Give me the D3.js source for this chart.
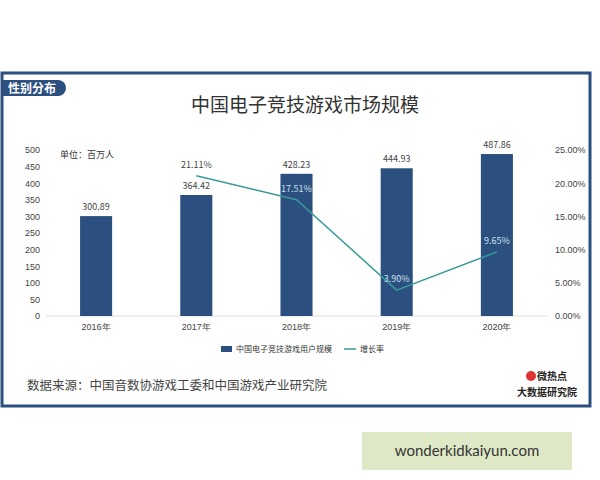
<!DOCTYPE html>
<html><head><meta charset="utf-8">
<script src="https://cdn.jsdelivr.net/npm/d3@7"></script>
<style>body{margin:0;background:#fff;font-family:"Noto Sans CJK SC","Noto Sans",sans-serif;}</style>
</head><body>
<script>
// data
var years = ["2016年", "2017年", "2018年", "2019年", "2020年"];
var users = [300.89, 364.42, 428.23, 444.93, 487.86];
var growth = [null, 21.11, 17.51, 3.90, 9.65];
var leftTicks = [0, 50, 100, 150, 200, 250, 300, 350, 400, 450, 500];
var rightTicks = [0, 5, 10, 15, 20, 25];

var svg = d3.select("body").append("svg").attr("width", 600).attr("height", 480);

// frame
svg.append("rect").attr("x", 2).attr("y", 73).attr("width", 588).attr("height", 333)
    .attr("fill", "#fff").attr("stroke", "#2b4f7e").attr("stroke-width", 3);
svg.append("path").attr("d", "M2,80 H58 a8,8 0 0 1 0,16 H2 Z").attr("fill", "#2b4f7e");
svg.append("text").attr("x", 8).attr("y", 93).attr("fill", "#fff").attr("font-size", 12)
    .attr("font-weight", "bold").text("性别分布");

svg.append("text").attr("x", 305).attr("y", 112).attr("text-anchor", "middle")
    .attr("font-size", 19).attr("fill", "#333").text("中国电子竞技游戏市场规模");
svg.append("text").attr("x", 60).attr("y", 158).attr("font-size", 9).attr("fill", "#333").text("单位：百万人");

var x = d3.scaleBand().domain(years).range([46, 547]).paddingInner(0.68).paddingOuter(0.34);
var y = d3.scaleLinear().domain([0, 500]).range([316, 150]);
var y2 = d3.scaleLinear().domain([0, 25]).range([316, 150]);

var g = svg.append("g");
g.append("line").attr("x1", 46).attr("x2", 547).attr("y1", y(0)).attr("y2", y(0)).attr("stroke", "#ddd");

var ly = d3.axisLeft(y).tickValues(leftTicks).tickSize(0).tickPadding(0);
g.append("g").attr("transform", "translate(40,0)").call(ly)
    .call(s => s.select(".domain").remove())
    .selectAll("text").attr("font-size", 9).attr("fill", "#444");
var ry = d3.axisRight(y2).tickValues(rightTicks).tickSize(0).tickPadding(0)
    .tickFormat(d => d.toFixed(2) + "%");
g.append("g").attr("transform", "translate(555,0)").call(ry)
    .call(s => s.select(".domain").remove())
    .selectAll("text").attr("font-size", 9).attr("fill", "#444");
var bx = d3.axisBottom(x).tickSize(0).tickPadding(8);
g.append("g").attr("transform", "translate(0,316)").call(bx)
    .call(s => s.select(".domain").remove())
    .selectAll("text").attr("font-size", 9).attr("fill", "#444");

g.selectAll(".bar").data(users).enter().append("rect")
    .attr("x", (d, i) => x(years[i])).attr("width", x.bandwidth())
    .attr("y", d => y(d)).attr("height", d => y(0) - y(d)).attr("fill", "#2b4f7e");
g.selectAll(".bl").data(users).enter().append("text")
    .attr("x", (d, i) => x(years[i]) + x.bandwidth() / 2).attr("y", d => y(d) - 6)
    .attr("text-anchor", "middle").attr("font-size", 9).attr("fill", "#444").text(d => d.toFixed(2));

var pts = growth.map((v, i) => ({v: v, i: i})).filter(d => d.v != null);
var line = d3.line().x(d => x(years[d.i]) + x.bandwidth() / 2).y(d => y2(d.v));
g.append("path").datum(pts).attr("d", line).attr("fill", "none").attr("stroke", "#3a9a9a").attr("stroke-width", 1.5);
g.selectAll(".gl").data(pts).enter().append("text")
    .attr("x", d => x(years[d.i]) + x.bandwidth() / 2).attr("y", d => y2(d.v) - 8)
    .attr("text-anchor", "middle").attr("font-size", 9)
    .attr("fill", d => d.i == 1 ? "#444" : "#cfe0f0").text(d => d.v.toFixed(2) + "%");

// legend
svg.append("rect").attr("x", 221).attr("y", 346).attr("width", 11).attr("height", 6).attr("fill", "#2b4f7e");
svg.append("text").attr("x", 236).attr("y", 352).attr("font-size", 8).attr("fill", "#333").text("中国电子竞技游戏用户规模");
svg.append("line").attr("x1", 344).attr("x2", 356).attr("y1", 349).attr("y2", 349).attr("stroke", "#3a9a9a").attr("stroke-width", 1.5);
svg.append("text").attr("x", 360).attr("y", 352).attr("font-size", 8).attr("fill", "#333").text("增长率");

svg.append("text").attr("x", 27).attr("y", 390).attr("font-size", 12.5).attr("fill", "#444")
    .text("数据来源：中国音数协游戏工委和中国游戏产业研究院");
svg.append("circle").attr("cx", 531).attr("cy", 376).attr("r", 5).attr("fill", "#d33");
svg.append("text").attr("x", 537).attr("y", 380).attr("font-size", 10).attr("font-weight", "bold").attr("fill", "#222").text("微热点");
svg.append("text").attr("x", 547).attr("y", 396).attr("text-anchor", "middle").attr("font-size", 10).attr("font-weight", "bold").attr("fill", "#222").text("大数据研究院");

// watermark
svg.append("rect").attr("x", 362).attr("y", 432).attr("width", 210).attr("height", 38).attr("fill", "#dfe8c6");
svg.append("text").attr("x", 467).attr("y", 456).attr("text-anchor", "middle").attr("font-size", 15)
    .attr("fill", "#333").attr("font-family", "Lato, sans-serif").text("wonderkidkaiyun.com");
</script>
</body></html>
